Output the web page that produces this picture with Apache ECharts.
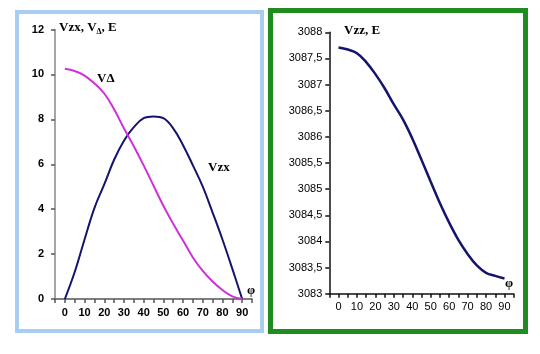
<!DOCTYPE html>
<html>
<head>
<meta charset="utf-8">
<script src="https://cdn.jsdelivr.net/npm/echarts@6/dist/echarts.min.js"></script>
<style>
  html, body { margin: 0; padding: 0; background: #fff; }
  #chart-container { width: 540px; height: 354px; }
</style>
</head>
<body>
<div id="chart-container"></div>
<script>
// angle phi, degrees
var phi = [0, 5, 10, 15, 20, 25, 30, 35, 40, 45, 50, 55, 60, 65, 70, 75, 80, 85, 90];
// left panel
var vzx = [0, 1.2, 2.65, 4.05, 5.1, 6.2, 7.05, 7.65, 8.05, 8.13, 8.05, 7.6, 6.85, 5.95, 5.0, 3.85, 2.65, 1.35, 0];
var vDelta = [10.25, 10.15, 9.95, 9.6, 9.15, 8.45, 7.6, 6.8, 5.95, 5.05, 4.15, 3.35, 2.6, 1.85, 1.25, 0.78, 0.4, 0.12, 0];
// right panel
var vzz = [3087.71, 3087.67, 3087.6, 3087.43, 3087.2, 3086.93, 3086.62, 3086.33, 3085.97, 3085.56, 3085.14, 3084.73, 3084.36, 3084.03, 3083.76, 3083.54, 3083.4, 3083.34, 3083.29];
var xTicks = [0, 10, 20, 30, 40, 50, 60, 70, 80, 90];

function pairs(ys) {
  return phi.map(function (p, i) { return [p, ys[i]]; });
}

var myChart = echarts.init(document.getElementById('chart-container'));

var labelFont = { fontFamily: 'Liberation Sans, Arial, sans-serif', fontSize: 11, color: '#000' };
var serifBold = 'bold 13px "Liberation Serif", "Times New Roman", serif';

function xAxisFor(gridIndex, lineColor, weight) {
  return {
    gridIndex: gridIndex,
    type: 'value',
    min: -5, max: 95, interval: 5,
    axisLine: { onZero: false, lineStyle: { color: lineColor, width: 1.5 } },
    axisTick: { show: true, length: 4, lineStyle: { color: lineColor, width: 1.5 } },
    splitLine: { show: false },
    axisLabel: Object.assign({
      margin: 8,
      fontWeight: weight,
      formatter: function (v) { return xTicks.indexOf(v) >= 0 ? String(v) : ''; }
    }, labelFont)
  };
}

var option = {
  backgroundColor: '#fff',
  animation: false,
  grid: [
    { left: 55, top: 29.5, width: 197, height: 269.5 },
    { left: 329.3, top: 32.3, width: 184.4, height: 261.4 }
  ],
  xAxis: [xAxisFor(0, '#555', 'bold'), xAxisFor(1, '#111', 'normal')],
  yAxis: [
    {
      gridIndex: 0, type: 'value', min: 0, max: 12, interval: 2,
      axisLine: { show: true, onZero: false, lineStyle: { color: '#888', width: 1.5 } },
      axisTick: { show: true, length: 4, lineStyle: { color: '#555', width: 1.5 } },
      splitLine: { show: false },
      axisLabel: Object.assign({ margin: 11, fontWeight: 'bold' }, labelFont)
    },
    {
      gridIndex: 1, type: 'value', min: 3083, max: 3088, interval: 0.5,
      axisLine: { show: true, onZero: false, lineStyle: { color: '#111', width: 1.5 } },
      axisTick: { show: true, length: 4, lineStyle: { color: '#111', width: 1.5 } },
      splitLine: { show: false },
      axisLabel: Object.assign({
        margin: 7,
        formatter: function (v) { return String(+v.toFixed(1)).replace('.', ','); }
      }, labelFont)
    }
  ],
  series: [
    {
      name: 'Vzx', type: 'line', xAxisIndex: 0, yAxisIndex: 0,
      data: pairs(vzx), smooth: 0.4, showSymbol: false,
      lineStyle: { color: '#14146e', width: 2 }
    },
    {
      name: 'VΔ', type: 'line', xAxisIndex: 0, yAxisIndex: 0,
      data: pairs(vDelta), smooth: 0.4, showSymbol: false,
      lineStyle: { color: '#d030d8', width: 2 }
    },
    {
      name: 'Vzz', type: 'line', xAxisIndex: 1, yAxisIndex: 1,
      data: pairs(vzz), smooth: 0.4, showSymbol: false,
      lineStyle: { color: '#14146e', width: 2.5 }
    }
  ],
  graphic: [
    // panel frames
    { type: 'rect', z: -1, shape: { x: 17, y: 12, width: 245, height: 319 },
      style: { fill: '#fff', stroke: '#a9cdf0', lineWidth: 4 } },
    { type: 'rect', z: -1, shape: { x: 270.5, y: 10.5, width: 255, height: 321 },
      style: { fill: '#fff', stroke: '#1f8c1f', lineWidth: 5 } },
    // axis titles and curve labels
    { type: 'text', left: 59, top: 21, style: {
        text: '{a|Vzx, V}{s|Δ}{a|, E}',
        rich: {
          a: { font: serifBold, fill: '#000' },
          s: { font: 'bold 8px "Liberation Serif", serif', fill: '#000', padding: [9, 0, 0, 0] }
        } } },
    { type: 'text', left: 97, top: 72, style: { text: 'VΔ', font: serifBold, fill: '#000' } },
    { type: 'text', left: 208, top: 161, style: { text: 'Vzx', font: serifBold, fill: '#000' } },
    { type: 'text', left: 247, top: 284, style: { text: 'φ', font: serifBold, fill: '#000' } },
    { type: 'text', left: 344, top: 24, style: { text: 'Vzz, E', font: serifBold, fill: '#000' } },
    { type: 'text', left: 505, top: 277, style: { text: 'φ', font: serifBold, fill: '#000' } }
  ]
};

myChart.setOption(option);
</script>
</body>
</html>
